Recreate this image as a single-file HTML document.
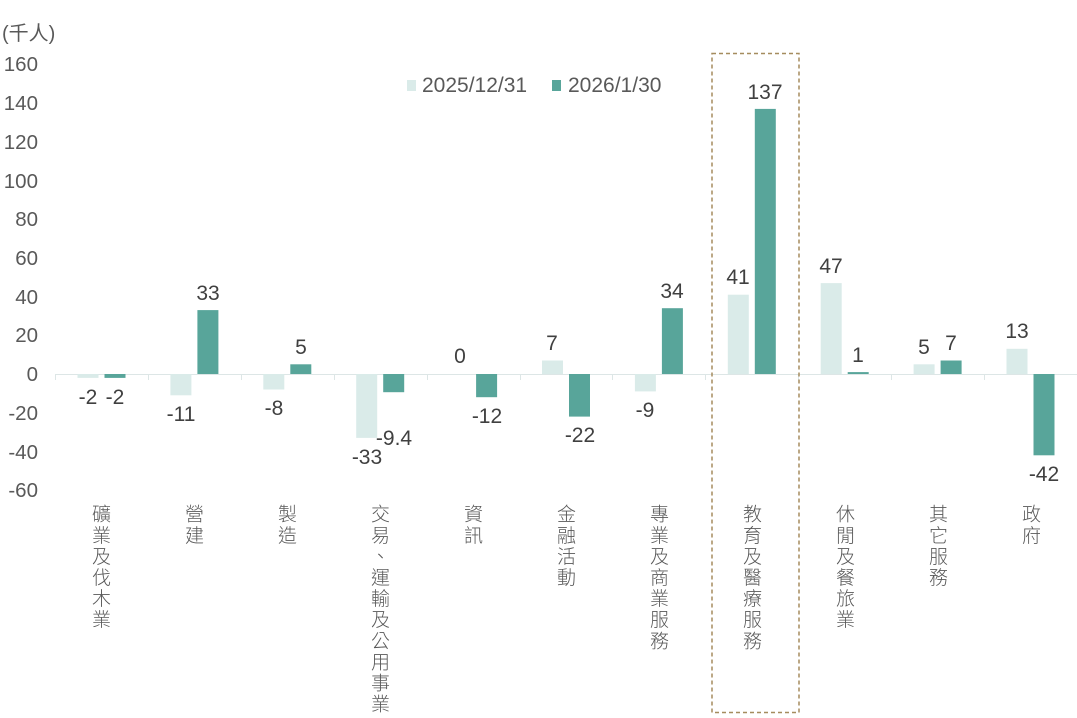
<!DOCTYPE html>
<html><head><meta charset="utf-8"><style>
html,body{margin:0;padding:0;background:#fff;}
#c{position:relative;width:1077px;height:718px;overflow:hidden;font-family:"Liberation Sans","Noto Sans CJK TC",sans-serif;}
.v{position:absolute;top:504px;writing-mode:vertical-rl;font-size:19px;letter-spacing:2.1px;color:#595959;line-height:20px;width:20px;font-family:"Noto Sans CJK TC","WenQuanYi Zen Hei",sans-serif;font-weight:300;}
</style></head><body><div id="c">
<svg width="1077" height="718" style="position:absolute;left:0;top:0" font-family="Liberation Sans, sans-serif">
<g font-size="20.5" fill="#595959" text-anchor="end">
<text x="38" y="71">160</text><text x="38" y="110">140</text><text x="38" y="149">120</text><text x="38" y="188">100</text>
<text x="38" y="226">80</text><text x="38" y="265">60</text><text x="38" y="304">40</text><text x="38" y="342">20</text>
<text x="38" y="381">0</text><text x="38" y="420">-20</text><text x="38" y="459">-40</text><text x="38" y="497">-60</text>
</g>
<text x="2" y="40" font-size="20" fill="#595959" font-family="Liberation Sans, Noto Sans CJK TC, sans-serif">(千人)</text>
<rect x="407" y="80" width="9" height="11" fill="#daebe9"/>
<text x="422" y="92" font-size="21" fill="#595959">2025/12/31</text>
<rect x="552" y="80" width="9" height="11" fill="#58a59a"/>
<text x="568" y="92" font-size="21" fill="#595959">2026/1/30</text>
<line x1="55" y1="374.5" x2="1077" y2="374.5" stroke="#dde6e6" stroke-width="1"/>
<g stroke="#dde6e6"><line x1="55.5" y1="374" x2="55.5" y2="380"/><line x1="148.5" y1="374" x2="148.5" y2="380"/><line x1="241.5" y1="374" x2="241.5" y2="380"/><line x1="334.5" y1="374" x2="334.5" y2="380"/><line x1="427.5" y1="374" x2="427.5" y2="380"/><line x1="520.5" y1="374" x2="520.5" y2="380"/><line x1="612.5" y1="374" x2="612.5" y2="380"/><line x1="705.5" y1="374" x2="705.5" y2="380"/><line x1="798.5" y1="374" x2="798.5" y2="380"/><line x1="891.5" y1="374" x2="891.5" y2="380"/><line x1="984.5" y1="374" x2="984.5" y2="380"/></g>
<g fill="#daebe9">
<rect x="77.5" y="374" width="21" height="3.9"/>
<rect x="170.4" y="374" width="21" height="21.3"/>
<rect x="263.3" y="374" width="21" height="15.5"/>
<rect x="356.2" y="374" width="21" height="63.9"/>
<rect x="542" y="360.5" width="21" height="13.5"/>
<rect x="634.9" y="374" width="21" height="17.4"/>
<rect x="727.8" y="294.7" width="21" height="79.3"/>
<rect x="820.7" y="283.1" width="21" height="90.9"/>
<rect x="913.6" y="364.3" width="21" height="9.7"/>
<rect x="1006.5" y="348.8" width="21" height="25.2"/>
</g>
<g fill="#58a59a">
<rect x="104.5" y="374" width="21" height="3.9"/>
<rect x="197.4" y="310.1" width="21" height="63.9"/>
<rect x="290.3" y="364.3" width="21" height="9.7"/>
<rect x="383.2" y="374" width="21" height="18.2"/>
<rect x="476.1" y="374" width="21" height="23.2"/>
<rect x="569" y="374" width="21" height="42.6"/>
<rect x="661.9" y="308.2" width="21" height="65.8"/>
<rect x="754.8" y="108.9" width="21" height="265.1"/>
<rect x="847.7" y="372.1" width="21" height="1.9"/>
<rect x="940.6" y="360.5" width="21" height="13.5"/>
<rect x="1033.5" y="374" width="21" height="81.3"/>
</g>
<g font-size="21" fill="#404040" text-anchor="middle">
<text x="88" y="404">-2</text><text x="115" y="404">-2</text>
<text x="181" y="421">-11</text><text x="208" y="300">33</text>
<text x="274" y="415">-8</text><text x="301" y="354">5</text>
<text x="367" y="464">-33</text><text x="394" y="445">-9.4</text>
<text x="460" y="363">0</text><text x="487" y="423">-12</text>
<text x="552" y="350">7</text><text x="580" y="442">-22</text>
<text x="645" y="417">-9</text><text x="672" y="298">34</text>
<text x="738" y="284">41</text><text x="765" y="99">137</text>
<text x="831" y="273">47</text><text x="858" y="362">1</text>
<text x="924" y="354">5</text><text x="951" y="350">7</text>
<text x="1017" y="338">13</text><text x="1044" y="481">-42</text>
</g>
<rect x="712" y="53.5" width="87" height="659" fill="none" stroke="#a58c5e" stroke-width="1.5" stroke-dasharray="4,3"/>
</svg>
<div class="v" style="left:91px">礦業及伐木業</div>
<div class="v" style="left:184px">營建</div>
<div class="v" style="left:277px">製造</div>
<div class="v" style="left:370px">交易、運輸及公用事業</div>
<div class="v" style="left:463px">資訊</div>
<div class="v" style="left:556px">金融活動</div>
<div class="v" style="left:649px">專業及商業服務</div>
<div class="v" style="left:742px">教育及醫療服務</div>
<div class="v" style="left:835px">休閒及餐旅業</div>
<div class="v" style="left:928px">其它服務</div>
<div class="v" style="left:1021px">政府</div>
</div></body></html>
